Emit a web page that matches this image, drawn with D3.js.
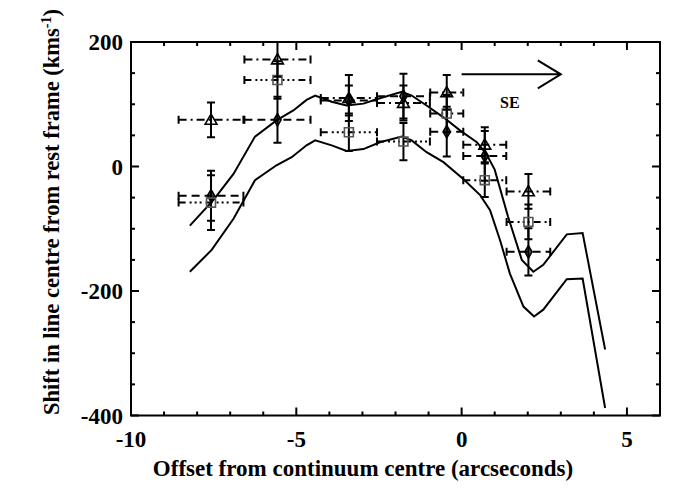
<!DOCTYPE html>
<html>
<head>
<meta charset="utf-8">
<script src="https://cdn.jsdelivr.net/npm/d3@7"></script>
<style>
  body { margin: 0; background: #fff; }
  text { font-family: "Liberation Serif", "Times New Roman", serif; font-weight: bold; }
</style>
</head>
<body>
<script>
// slit positions (arcsec) and half-widths of the extraction bins
var binX   = [-7.58, -5.57, -3.41, -1.76, -0.45, 0.70, 2.02];
var binErr = [0.98, 1.0, 0.85, 0.8, 0.5, 0.65, 0.66];

// three lines, velocity shift and error (km/s)
var triY   = [75, 172, 110, 102, 119, 35, -40];
var triErr = [28, 28, 37, 28, 28, 28, 28];
var sqY    = [-58, 139, 55, 40, 85, -22, -89];
var sqErr  = [44, 30, 30, 30, 30, 27, 28];
var diaY   = [-47, 75, 106, 113, 56, 17, -137];
var diaErr = [40, 37, 24, 36, 40, 40, 38];

// model curves
var upX = [-8.22,-7.51,-6.9,-6.25,-5.6,-5.09,-4.69,-4.43,-3.93,-3.48,-2.97,-2.57,-1.81,-1.51,-1.06,-0.55,-0.05,0.46,0.75,1.0,1.4,1.82,2.17,2.47,3.18,3.66,4.34];
var upY = [-95,-54,-12,48,74,90,107,114,104,98,101,108,120,114,98,79,58,39,20,-5,-80,-150,-169,-158,-109,-107,-294];
var loX = [-8.22,-7.56,-6.9,-6.25,-5.6,-5.14,-4.69,-4.43,-3.93,-3.48,-2.97,-2.47,-1.81,-1.51,-1.06,-0.55,0.05,0.56,0.86,1.16,1.46,1.87,2.19,2.47,3.18,3.66,4.34];
var loY = [-169,-134,-84,-22,2,15,34,42,34,25,28,39,48,42,23,7,-20,-46,-70,-118,-172,-225,-241,-230,-181,-180,-388];

var xTicks = [-10, -5, 0, 5];
var yTicks = [-400, -200, 0, 200];

var width = 700, height = 500;
var margin = {left: 131, right: 40, top: 42, bottom: 84.5};

var svg = d3.select('body').append('svg')
	.attr('width', width).attr('height', height);

var x = d3.scaleLinear().domain([-10, 6]).range([margin.left, width - margin.right]);
var y = d3.scaleLinear().domain([-400, 200]).range([height - margin.bottom, margin.top]);

svg.append('clipPath').attr('id', 'clip').append('rect')
	.attr('x', x(-10)).attr('y', y(200))
	.attr('width', x(6) - x(-10)).attr('height', y(-400) - y(200));

var plot = svg.append('g').attr('clip-path', 'url(#clip)');

// curves
var line = d3.line().x(function (d) { return x(d[0]); }).y(function (d) { return y(d[1]); });
[[upX, upY], [loX, loY]].forEach(function (c) {
	plot.append('path')
		.datum(d3.zip(c[0], c[1]))
		.attr('fill', 'none').attr('stroke', '#000').attr('stroke-width', 2)
		.attr('d', line);
});

var series = [
	{ys: diaY, err: diaErr, dash: '8,5', shape: 'diamond', color: '#000'},
	{ys: sqY, err: sqErr, dash: '7,4,2,3,2,3,2,4', shape: 'square', color: '#555'},
	{ys: triY, err: triErr, dash: '8,4,2,4', shape: 'triangle', color: '#000'}
];

series.forEach(function (s) {
	var pts = binX.map(function (bx, i) {
		return {x: bx, xe: binErr[i], y: s.ys[i], ye: s.err[i]};
	});
	var g = plot.append('g');

	// horizontal (bin) bars
	g.selectAll('.hbar').data(pts).enter().append('line')
		.attr('x1', function (d) { return x(d.x - d.xe); })
		.attr('x2', function (d) { return x(d.x + d.xe); })
		.attr('y1', function (d) { return y(d.y); })
		.attr('y2', function (d) { return y(d.y); })
		.attr('stroke', '#000').attr('stroke-width', 2)
		.attr('stroke-dasharray', s.dash);
	[-1, 1].forEach(function (sg) {
		g.selectAll('.hcap' + sg).data(pts).enter().append('line')
			.attr('x1', function (d) { return x(d.x + sg * d.xe); })
			.attr('x2', function (d) { return x(d.x + sg * d.xe); })
			.attr('y1', function (d) { return y(d.y) - 4; })
			.attr('y2', function (d) { return y(d.y) + 4; })
			.attr('stroke', '#000').attr('stroke-width', 2);
	});

	// vertical error bars
	g.selectAll('.vbar').data(pts).enter().append('line')
		.attr('x1', function (d) { return x(d.x); })
		.attr('x2', function (d) { return x(d.x); })
		.attr('y1', function (d) { return y(d.y - d.ye); })
		.attr('y2', function (d) { return y(d.y + d.ye); })
		.attr('stroke', '#000').attr('stroke-width', 2);
	[-1, 1].forEach(function (sg) {
		g.selectAll('.vcap' + sg).data(pts).enter().append('line')
			.attr('x1', function (d) { return x(d.x) - 4; })
			.attr('x2', function (d) { return x(d.x) + 4; })
			.attr('y1', function (d) { return y(d.y + sg * d.ye); })
			.attr('y2', function (d) { return y(d.y + sg * d.ye); })
			.attr('stroke', '#000').attr('stroke-width', 2);
	});

	// markers
	var sym = s.shape === 'triangle' ? d3.symbolTriangle : (s.shape === 'square' ? d3.symbolSquare : d3.symbolDiamond);
	var size = s.shape === 'triangle' ? 60 : (s.shape === 'square' ? 80 : 45);
	g.selectAll('.mk').data(pts).enter().append('path')
		.attr('transform', function (d) {
			return 'translate(' + x(d.x) + ',' + (y(d.y) + (s.shape === 'triangle' ? 1 : 0)) + ')';
		})
		.attr('d', d3.symbol().type(sym).size(size))
		.attr('fill', s.shape === 'diamond' ? '#000' : '#fff')
		.attr('fill-opacity', s.shape === 'diamond' ? 0.6 : 0)
		.attr('stroke', s.color).attr('stroke-width', 1.6);
});

// direction arrow
var ay = y(148), ax0 = x(0), ax1 = x(3.0);
svg.append('path')
	.attr('d', 'M' + ax0 + ',' + ay + 'L' + ax1 + ',' + ay
		+ 'M' + (ax1 - 23) + ',' + (ay - 14) + 'L' + ax1 + ',' + ay + 'L' + (ax1 - 23) + ',' + (ay + 14))
	.attr('fill', 'none').attr('stroke', '#000').attr('stroke-width', 2);
svg.append('text')
	.attr('x', x(1.46)).attr('y', y(103) + 6)
	.attr('text-anchor', 'middle').attr('font-size', 16)
	.text('SE');

// frame with inward ticks on all sides
var axes = svg.append('g').attr('stroke', '#000').attr('stroke-width', 2);
axes.append('rect')
	.attr('x', x(-10)).attr('y', y(200))
	.attr('width', x(6) - x(-10)).attr('height', y(-400) - y(200))
	.attr('fill', 'none');

d3.range(-10, 7, 1).forEach(function (v) {
	var len = v % 5 === 0 ? 8 : 4;
	axes.append('line').attr('x1', x(v)).attr('x2', x(v))
		.attr('y1', y(-400)).attr('y2', y(-400) - len);
	axes.append('line').attr('x1', x(v)).attr('x2', x(v))
		.attr('y1', y(200)).attr('y2', y(200) + len);
});
d3.range(-400, 201, 50).forEach(function (v) {
	var len = v % 200 === 0 ? 8 : 4;
	axes.append('line').attr('y1', y(v)).attr('y2', y(v))
		.attr('x1', x(-10)).attr('x2', x(-10) + len);
	axes.append('line').attr('y1', y(v)).attr('y2', y(v))
		.attr('x1', x(6)).attr('x2', x(6) - len);
});

svg.selectAll('.xt').data(xTicks).enter().append('text')
	.attr('x', function (d) { return x(d); })
	.attr('y', y(-400) + 31)
	.attr('text-anchor', 'middle').attr('font-size', 23)
	.text(function (d) { return d; });

svg.selectAll('.yt').data(yTicks).enter().append('text')
	.attr('x', x(-10) - 8)
	.attr('y', function (d) { return y(d) + 8; })
	.attr('text-anchor', 'end').attr('font-size', 23)
	.text(function (d) { return d; });

svg.append('text')
	.attr('x', 363).attr('y', 476)
	.attr('text-anchor', 'middle').attr('font-size', 23)
	.text('Offset from continuum centre (arcseconds)');

var yl = svg.append('text')
	.attr('transform', 'translate(59,' + 212 + ') rotate(-90)')
	.attr('text-anchor', 'middle').attr('font-size', 22.5);
yl.append('tspan').text('Shift in line centre from rest frame (kms');
yl.append('tspan').attr('dy', -8).attr('font-size', 14).text('-1');
yl.append('tspan').attr('dy', 8).text(')');
</script>
</body>
</html>
